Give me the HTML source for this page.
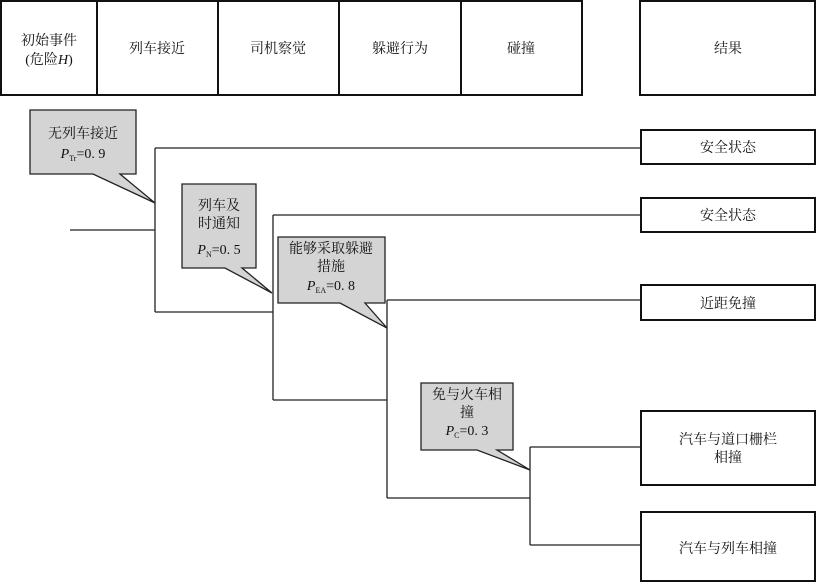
<!DOCTYPE html>
<html><head><meta charset="utf-8"><style>
body{margin:0;background:#fff}
svg text{font-family:"Liberation Serif","Noto Serif CJK SC",serif;fill:#111}
</style></head><body>
<svg width="817" height="583" viewBox="0 0 817 583" xmlns="http://www.w3.org/2000/svg">
<g fill="#fff" stroke="#111" stroke-width="2">
<rect x="1" y="1" width="96" height="94"/>
<rect x="97" y="1" width="121" height="94"/>
<rect x="218" y="1" width="121" height="94"/>
<rect x="339" y="1" width="122" height="94"/>
<rect x="461" y="1" width="121" height="94"/>
<rect x="640" y="1" width="175" height="94"/>
</g>
<g font-size="14" text-anchor="middle">
<text x="49" y="45">初始事件</text>
<text x="49" y="64">(危险<tspan font-style="italic">H</tspan>)</text>
<text x="157" y="53">列车接近</text>
<text x="278" y="53">司机察觉</text>
<text x="400" y="53">躲避行为</text>
<text x="521" y="53">碰撞</text>
<text x="728" y="53">结果</text>
</g>
<g fill="none" stroke="#222" stroke-width="1.3">
<path d="M70 230H155M155 148V312M155 148H640M155 312H273M273 215V400M273 215H640M273 400H387M387 300V498M387 300H640M387 498H530M530 447V545M530 447H640M530 545H640"/>
</g>
<g fill="#fff" stroke="#111" stroke-width="2">
<rect x="641" y="130" width="174" height="34"/>
<rect x="641" y="198" width="174" height="34"/>
<rect x="641" y="285" width="174" height="35"/>
<rect x="641" y="411" width="174" height="74"/>
<rect x="641" y="512" width="174" height="69"/>
</g>
<g font-size="14" text-anchor="middle">
<text x="728" y="152">安全状态</text>
<text x="728" y="220">安全状态</text>
<text x="728" y="308">近距免撞</text>
<text x="728" y="444">汽车与道口栅栏</text>
<text x="728" y="462">相撞</text>
<text x="728" y="553">汽车与列车相撞</text>
</g>
<g fill="#d4d4d4" stroke="#222" stroke-width="1.3">
<path d="M30 110H136V174H120L155 203L93 174H30Z"/>
<path d="M182 184H256V268H242L272 293L225 268H182Z"/>
<path d="M278 237H385V303H365L387 328L340 303H278Z"/>
<path d="M421 383H513V450H497L530 470L477 450H421Z"/>
</g>
<g font-size="14" text-anchor="middle">
<text x="83" y="138">无列车接近</text>
<text x="83" y="158"><tspan font-style="italic">P</tspan><tspan font-size="8" dy="3">Tr</tspan><tspan dy="-3">=0. 9</tspan></text>
<text x="219" y="210">列车及</text>
<text x="219" y="228">时通知</text>
<text x="219" y="254"><tspan font-style="italic">P</tspan><tspan font-size="8" dy="3">N</tspan><tspan dy="-3">=0. 5</tspan></text>
<text x="331" y="253">能够采取躲避</text>
<text x="331" y="271">措施</text>
<text x="331" y="290"><tspan font-style="italic">P</tspan><tspan font-size="8" dy="3">EA</tspan><tspan dy="-3">=0. 8</tspan></text>
<text x="467" y="399">免与火车相</text>
<text x="467" y="417">撞</text>
<text x="467" y="435"><tspan font-style="italic">P</tspan><tspan font-size="8" dy="3">C</tspan><tspan dy="-3">=0. 3</tspan></text>
</g>
</svg>
</body></html>
